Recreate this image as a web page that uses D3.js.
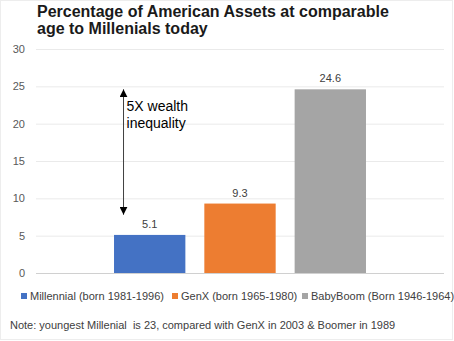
<!DOCTYPE html>
<html>
<head>
<meta charset="utf-8">
<script src="https://cdn.jsdelivr.net/npm/d3@7"></script>
<style>
  body { margin: 0; background: #fff; }
  svg { display: block; font-family: "Liberation Sans", Arial, sans-serif; }
</style>
</head>
<body>
<svg id="chart"></svg>
<script>
// generations and their share of assets at comparable age
const series = ["Millennial (born 1981-1996)", "GenX (born 1965-1980)", "BabyBoom (Born 1946-1964)"];
const values = [5.1, 9.3, 24.6];
const colors = ["#4472C4", "#ED7D31", "#A5A5A5"];
const yTicks = [0, 5, 10, 15, 20, 25, 30];
const arrowSpan = [24.6, 7.8];

const width = 454, height = 341;
const margin = { top: 49, right: 10, bottom: 68, left: 36 };

const svg = d3.select("#chart")
    .attr("width", width)
    .attr("height", height);

// light frame round the chart area
svg.append("rect")
    .attr("x", 0.5).attr("y", 0.5)
    .attr("width", width - 2).attr("height", height - 2)
    .attr("fill", "#fff")
    .attr("stroke", "#ededed");

// title
const title = svg.append("text")
    .attr("x", 37)
    .attr("font-size", "16px")
    .attr("font-weight", "bold")
    .attr("fill", "#1a1a1a");
title.append("tspan").attr("x", 37).attr("y", 17).text("Percentage of American Assets at comparable");
title.append("tspan").attr("x", 37).attr("y", 34).text("age to Millenials today");

const y = d3.scaleLinear()
    .domain([0, 30])
    .range([height - margin.bottom, margin.top]);

// one category holding the three series side by side
const x0 = d3.scaleBand()
    .domain(["all"])
    .range([margin.left, width - margin.right]);
const x1 = d3.scaleBand()
    .domain(series)
    .range([0, x0.bandwidth()])
    .paddingInner(0.21)
    .paddingOuter(0.864);

// gridlines
svg.append("g")
    .selectAll("line")
    .data(yTicks)
    .join("line")
    .attr("x1", margin.left)
    .attr("x2", width - margin.right)
    .attr("y1", d => y(d) + 0.5)
    .attr("y2", d => y(d) + 0.5)
    .attr("stroke", d => d === 0 ? "#d0d0d0" : "#eaeaea")
    .attr("stroke-width", 1);

// y axis labels
const yAxis = svg.append("g")
    .attr("transform", `translate(${margin.left},0)`)
    .call(d3.axisLeft(y).tickValues(yTicks).tickSize(0).tickPadding(11));
yAxis.select(".domain").remove();
yAxis.selectAll("text")
    .attr("font-family", "Liberation Sans, Arial, sans-serif")
    .attr("font-size", "11px")
    .attr("fill", "#595959");

// bars
const g = svg.append("g").attr("transform", `translate(${x0("all")},0)`);
g.selectAll("rect")
    .data(values)
    .join("rect")
    .attr("x", (d, i) => x1(series[i]))
    .attr("y", d => y(d))
    .attr("width", x1.bandwidth())
    .attr("height", d => y(0) - y(d))
    .attr("fill", (d, i) => colors[i]);

// value labels
g.selectAll("text.val")
    .data(values)
    .join("text")
    .attr("class", "val")
    .attr("x", (d, i) => x1(series[i]) + x1.bandwidth() / 2)
    .attr("y", d => y(d) - 7)
    .attr("text-anchor", "middle")
    .attr("font-size", "11px")
    .attr("fill", "#404040")
    .text(d => d);

// double-headed arrow annotation
const ax = x0("all") + x1(series[0]) + 9.5;
const defs = svg.append("defs");
defs.append("marker")
    .attr("id", "head")
    .attr("viewBox", "0 0 10 10")
    .attr("refX", 10).attr("refY", 5)
    .attr("markerWidth", 8).attr("markerHeight", 8)
    .attr("markerUnits", "userSpaceOnUse")
    .attr("orient", "auto-start-reverse")
    .append("path")
    .attr("d", "M0,0L10,5L0,10Z")
    .attr("fill", "#000");
svg.append("line")
    .attr("x1", ax).attr("x2", ax)
    .attr("y1", y(arrowSpan[0])).attr("y2", y(arrowSpan[1]))
    .attr("stroke", "#404040")
    .attr("stroke-width", 1)
    .attr("marker-start", "url(#head)")
    .attr("marker-end", "url(#head)");

const note = svg.append("text")
    .attr("font-size", "14px")
    .attr("fill", "#000");
note.append("tspan").attr("x", ax + 3).attr("y", 111).text("5X wealth");
note.append("tspan").attr("x", ax + 3).attr("y", 128).text("inequality");

// legend
const legendX = [21, 172, 302];
const legend = svg.append("g")
    .selectAll("g")
    .data(series)
    .join("g")
    .attr("transform", (d, i) => `translate(${legendX[i]},296)`);
legend.append("rect")
    .attr("x", 0).attr("y", -3)
    .attr("width", 6).attr("height", 6)
    .attr("fill", (d, i) => colors[i]);
legend.append("text")
    .attr("x", 9)
    .attr("y", 4)
    .attr("font-size", "11px")
    .attr("fill", "#404040")
    .text(d => d);

// footnote
svg.append("text")
    .attr("x", 10)
    .attr("y", 329)
    .attr("font-size", "11px")
    .attr("fill", "#404040")
    .style("white-space", "pre")
    .text("Note: youngest Millenial  is 23, compared with GenX in 2003 & Boomer in 1989");
</script>
</body>
</html>
